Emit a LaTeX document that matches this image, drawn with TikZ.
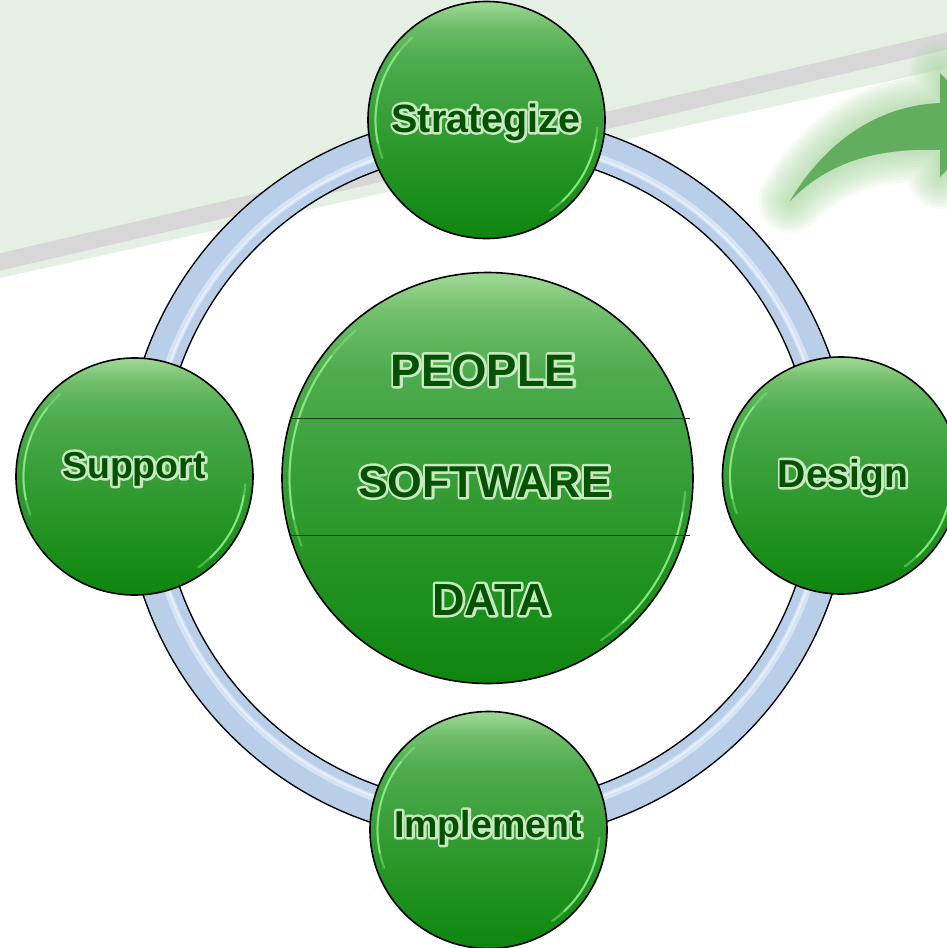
\documentclass[tikz,border=0pt]{standalone}
\usepackage{fontspec}
\setmainfont{Liberation Sans}
\usetikzlibrary{calc}
\definecolor{bandgreen}{RGB}{229,240,228}
\definecolor{stripegray}{RGB}{215,215,215}
\definecolor{ringblue}{RGB}{184,206,233}
\definecolor{ringlight}{RGB}{224,235,248}
\definecolor{txtgreen}{RGB}{5,82,5}
\definecolor{glowgreen}{RGB}{200,232,192}
\definecolor{arrowgreen}{RGB}{99,174,94}
\definecolor{arrowglow}{RGB}{165,214,155}
\definecolor{hilite}{RGB}{140,235,135}
\definecolor{divline}{RGB}{20,60,20}
\definecolor{ga}{RGB}{14,134,14}
\definecolor{gb}{RGB}{36,148,36}
\definecolor{gc}{RGB}{58,160,58}
\definecolor{gd}{RGB}{78,172,78}
\definecolor{ge}{RGB}{112,190,106}
\definecolor{gf}{RGB}{160,218,150}
\pgfdeclareverticalshading{btnshade}{100bp}{color(0bp)=(ga); color(25bp)=(ga); color(40bp)=(gb); color(52bp)=(gc); color(63bp)=(gd); color(70bp)=(ge); color(75bp)=(gf); color(100bp)=(gf)}
\tikzset{
  btn/.style={circle, inner sep=0pt, draw=black, line width=1.6pt, shade, shading=btnshade},
  satbtn/.style={btn, minimum size=237pt},
  corebtn/.style={btn, minimum size=411pt},
  glowtxt/.style={text=glowgreen, anchor=base, inner sep=0pt, font=\bfseries},
  maintxt/.style={text=txtgreen, anchor=base, inner sep=0pt, font=\bfseries},
  hl/.style={hilite, line width=2.2pt, line cap=round},
}
\newcommand\glowlabel[4]{%
  \node[glowtxt] at (#2) {\fontsize{#3}{#3}\selectfont\special{pdf:literal direct 2 Tr 5 w 1 j}#4\special{pdf:literal direct 0 Tr}};
  \node[maintxt] (#1) at (#2) {\fontsize{#3}{#3}\selectfont #4};}
\newcommand\highlights[2]{%
  % #1 = node, #2 = radius of highlight (screen angles, counter-clockwise)
  \draw[hl, opacity=0.45] ($(#1.center)+(132:#2)$) arc[start angle=132, end angle=200, radius=#2];
  \draw[hl, opacity=0.9, line width=1.8pt] ($(#1.center)+(142:#2)$) arc[start angle=142, end angle=192, radius=#2];
  \draw[hl, opacity=0.45] ($(#1.center)+(-4:#2)$) arc[start angle=-4, end angle=-55, radius=#2];
  \draw[hl, opacity=0.9, line width=1.8pt] ($(#1.center)+(-10:#2)$) arc[start angle=-10, end angle=-47, radius=#2];
}
\begin{document}
\begin{tikzpicture}[x=1pt, y=-1pt]
\useasboundingbox (0,0) rectangle (947,948);
\clip (0,0) rectangle (947,948);
% background band
\fill[white] (0,0) rectangle (947,948);
\fill[bandgreen] (0,0) -- (947,0) -- (947,68) -- (0,278) -- cycle;
\draw[stripegray, line width=17pt] (-10,264.3) -- (957,38.7);
% glowing arrow
\def\arrowpath{(790,201) .. controls (820,150) and (870,106) .. (940,103) -- (940,73) -- (990,125) -- (940,177) -- (940,150) .. controls (880,148) and (830,160) .. (790,201) -- cycle}
\foreach \w in {64,58,...,4}{\draw[arrowglow, line width=\w pt, line join=round, opacity=0.09] \arrowpath;}
\fill[arrowgreen] \arrowpath;
% ring
\coordinate (ringc) at (487.5,478);
\draw[black, line width=38.5pt] (ringc) circle[radius=345pt];
\draw[ringblue, line width=35.5pt] (ringc) circle[radius=345pt];
\draw[ringlight, line width=7pt, opacity=0.75] (ringc) circle[radius=339pt];
\draw[white, line width=1.5pt, opacity=0.5] (ringc) circle[radius=338pt];
% core
\node[corebtn] (core) at (ringc) {};
\highlights{core}{198pt}
% satellites
\node[satbtn] (strat) at (486.5,120) {};
\node[satbtn] (supp) at (134.5,476.5) {};
\node[satbtn] (des) at (841,475.5) {};
\node[satbtn] (impl) at (488.5,830) {};
\foreach \n in {strat,supp,des,impl}{\highlights{\n}{111pt}}
% divider lines in core
\draw[divline, line width=1pt] ($(core.center)+(-198,-60)$) coordinate (d1a) -- ($(core.center)+(202.5,-60)$) coordinate (d1b);
\draw[divline, line width=1pt] ($(core.center)+(-198,57)$) coordinate (d2a) -- ($(core.center)+(202.5,57)$) coordinate (d2b);
% labels
\glowlabel{tstrat}{486,132}{39.5}{Strategize}
\glowlabel{tsupp}{134,478}{37.5}{Support}
\glowlabel{tdes}{843,487}{39}{Design}
\glowlabel{timpl}{488,837}{37.5}{Implement}
\glowlabel{tpeople}{483,386}{45.5}{PEOPLE}
\glowlabel{tsoft}{484.5,497}{44.6}{SOFTWARE}
\glowlabel{tdata}{491.5,615}{45}{DATA}
\end{tikzpicture}
\end{document}
